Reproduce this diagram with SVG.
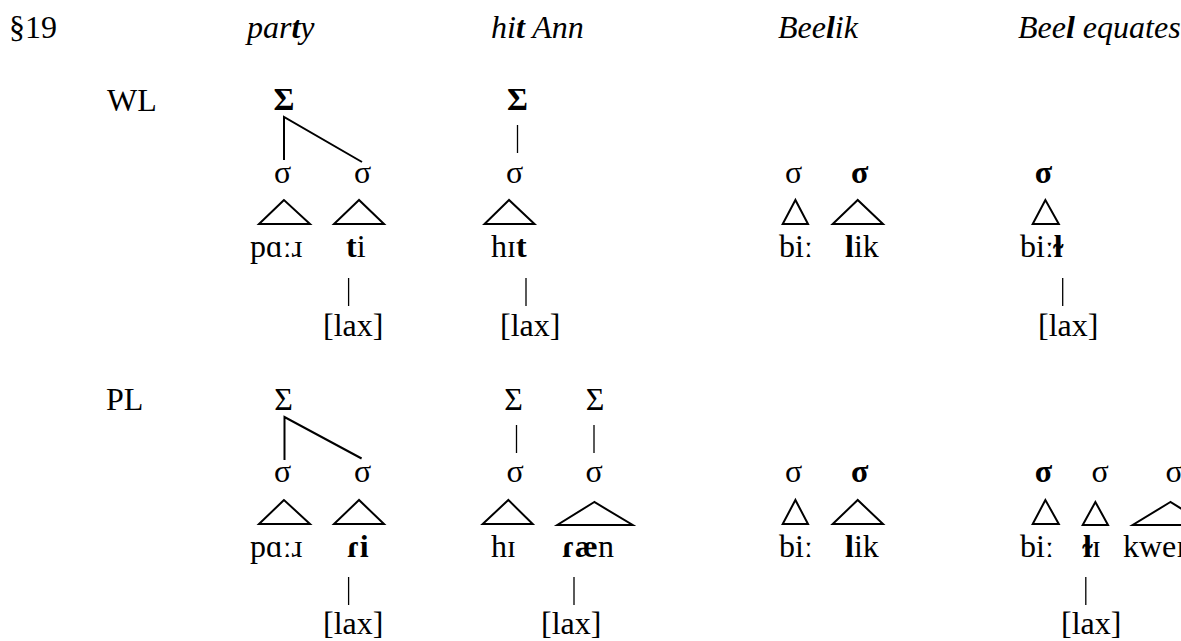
<svg xmlns="http://www.w3.org/2000/svg" width="1181" height="641" viewBox="0 0 1181 641">
<style>
text{font-family:"Liberation Serif","DejaVu Serif",serif;font-size:32px;fill:#000}
.it{font-style:italic}
.b{font-weight:bold}
.c{text-anchor:middle}
.tri{fill:none;stroke:#000;stroke-width:2;stroke-linejoin:miter}
.ln{stroke:#000;stroke-width:2;fill:none}
.vl{stroke:#000;stroke-width:1.3;fill:none}
</style>
<rect width="1181" height="641" fill="#fff"/>
<g id="headers">
<text x="9" y="38">§19</text>
<text x="247" y="38" class="it">par<tspan class="b">t</tspan>y</text>
<text x="491" y="38" class="it">hi<tspan class="b">t</tspan> Ann</text>
<text x="778" y="38" class="it">Bee<tspan class="b">l</tspan>ik</text>
<text x="1018" y="38" class="it">Bee<tspan class="b">l</tspan> equates</text>
</g>
<g id="row-labels">
<text x="107" y="111">WL</text>
<text x="106" y="410">PL</text>
</g>
<g id="connectors">
<polyline class="ln" points="284,160 284,117 362,162"/>
<line class="vl" x1="517.5" y1="125" x2="517.5" y2="153"/>
<line class="vl" x1="348.6" y1="278" x2="348.6" y2="306"/>
<line class="vl" x1="526" y1="278" x2="526" y2="306"/>
<line class="vl" x1="1062.7" y1="278" x2="1062.7" y2="306"/>
<polyline class="ln" points="284.5,460 284.5,417 361.6,458.5"/>
<line class="vl" x1="516.5" y1="425" x2="516.5" y2="453"/>
<line class="vl" x1="594" y1="425" x2="594" y2="453"/>
<line class="vl" x1="348.6" y1="577" x2="348.6" y2="605"/>
<line class="vl" x1="574" y1="577" x2="574" y2="605"/>
<line class="vl" x1="1085.8" y1="577" x2="1085.8" y2="605"/>
</g>
<g id="wl-party">
<text x="284" y="110" class="c b">Σ</text>
<text x="282.5" y="183" class="c">σ</text>
<text x="362.5" y="183" class="c">σ</text>
<polygon class="tri" points="284,200 259,224 310,224"/>
<polygon class="tri" points="359,200 334,224 384,224"/>
<text x="250" y="257">pɑːɹ</text>
<text x="346" y="257"><tspan class="b">t</tspan>i</text>
<text x="323" y="336">[lax]</text>
</g>
<g id="wl-hit">
<text x="517.5" y="110" class="c b">Σ</text>
<text x="514.5" y="183" class="c">σ</text>
<polygon class="tri" points="509,200 484.5,224 534.5,224"/>
<text x="491" y="257">hɪ<tspan class="b">t</tspan></text>
<text x="500" y="336">[lax]</text>
</g>
<g id="wl-beelik">
<text x="793.5" y="183" class="c">σ</text>
<text x="859.6" y="183" class="c b">σ</text>
<polygon class="tri" points="795.4,200 782.7,224 808,224"/>
<polygon class="tri" points="857.7,200 832.7,224 883,224"/>
<text x="779" y="257">biː</text>
<text x="845" y="257"><tspan class="b">l</tspan>ik</text>
</g>
<g id="wl-beel">
<text x="1043.5" y="183" class="c b">σ</text>
<polygon class="tri" points="1045.4,200 1032.7,224 1058.8,224"/>
<text x="1020" y="257">biː<tspan class="b">ɫ</tspan></text>
<text x="1038" y="336">[lax]</text>
</g>
<g id="pl-party">
<text x="283.5" y="410" class="c">Σ</text>
<text x="282.5" y="482" class="c">σ</text>
<text x="362.5" y="482" class="c">σ</text>
<polygon class="tri" points="284,500 259,524 310,524"/>
<polygon class="tri" points="359,500 334,524 384,524"/>
<text x="250" y="557">pɑːɹ</text>
<text x="347" y="557" class="b">ɾi</text>
<text x="323" y="634">[lax]</text>
</g>
<g id="pl-hit">
<text x="513.5" y="410" class="c">Σ</text>
<text x="595" y="410" class="c">Σ</text>
<text x="515" y="482" class="c">σ</text>
<text x="594" y="482" class="c">σ</text>
<polygon class="tri" points="508.3,500 482.7,524 532.7,524"/>
<polygon class="tri" points="594.3,502 557.3,525 632.7,525"/>
<text x="491" y="557">hɪ</text>
<text x="562" y="557"><tspan class="b">ɾæ</tspan>n</text>
<text x="541" y="634">[lax]</text>
</g>
<g id="pl-beelik">
<text x="793.5" y="482" class="c">σ</text>
<text x="859.6" y="482" class="c b">σ</text>
<polygon class="tri" points="795.4,500 782.7,524 808,524"/>
<polygon class="tri" points="857.7,500 832.7,524 883,524"/>
<text x="779" y="557">biː</text>
<text x="845" y="557"><tspan class="b">l</tspan>ik</text>
</g>
<g id="pl-beel">
<text x="1043.5" y="482" class="c b">σ</text>
<text x="1100" y="482" class="c">σ</text>
<text x="1174" y="482" class="c">σ</text>
<polygon class="tri" points="1045.4,500 1032.7,524 1058.8,524"/>
<polygon class="tri" points="1095.4,502 1082.7,525 1108,525"/>
<polygon class="tri" points="1170.4,502 1132.7,525 1208,525"/>
<text x="1020" y="557">biː</text>
<text x="1083" y="557"><tspan class="b">ɫ</tspan>ɪ</text>
<text x="1123" y="557">kweɪ</text>
<text x="1061" y="634">[lax]</text>
</g>
</svg>
